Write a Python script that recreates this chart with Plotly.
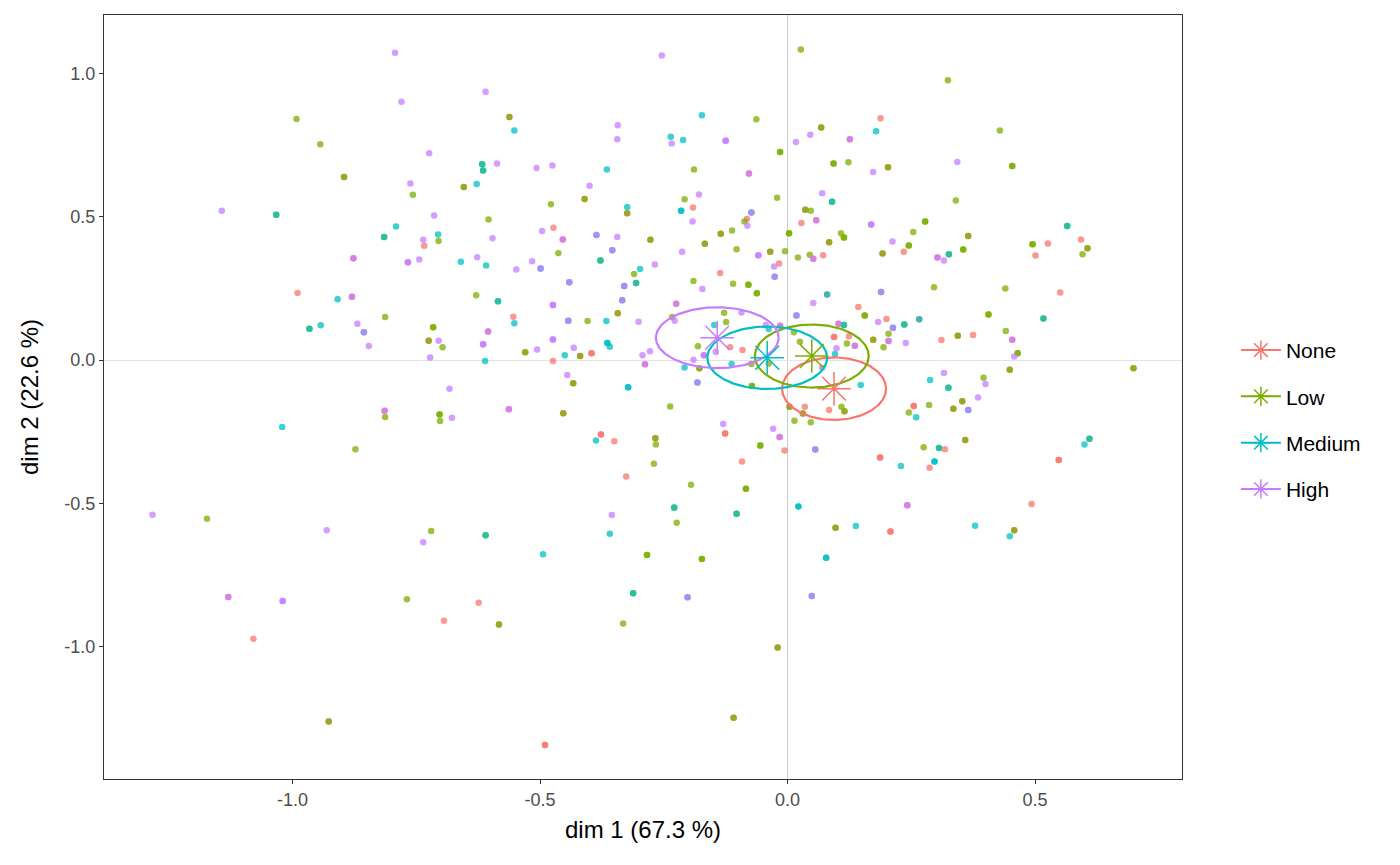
import numpy as np
import plotly.graph_objects as go

groups = ["None", "Low", "Medium", "High"]
colors = {"None": "#F8766D", "Low": "#7CAE00", "Medium": "#00BFC4", "High": "#C77CFF"}

# individual points belonging to a single group
none_only = [(-0.734,0.399),(-0.473,0.462),(-0.191,0.532),(-0.082,0.492),(-0.017,0.337),(0.028,0.478),(0.072,0.366),
    (0.188,0.844),(0.235,0.378),(0.526,0.407),(0.501,0.365),(0.593,0.421),(-0.990,0.234),
    (-0.136,0.304),(-0.554,0.151),(-0.396,0.024),(-0.396,0.024),(-0.474,-0.003),(-0.377,-0.260),(-0.377,-0.260),
    (-0.350,-0.283),(-0.326,-0.406),(-0.006,-0.316),(-0.092,-0.354),(-0.126,-0.256),(-0.126,-0.256),(0.035,-0.163),
    (-0.116,0.045),(-0.091,0.035),(0.551,0.236),(0.143,0.185),(0.200,0.143),(0.094,0.080),(0.094,0.080),(0.124,0.083),
    (0.311,0.070),(0.375,0.087),(0.084,-0.174),(0.255,-0.160),(0.255,-0.160),(0.318,-0.311),(0.287,-0.376),
    (0.187,-0.340),(0.187,-0.340),(0.493,-0.502),(0.548,-0.349),(0.548,-0.349),(0.208,-0.598),(0.208,-0.598),
    (-0.694,-0.910),(-1.079,-0.973),(-0.624,-0.847),(-0.490,-1.343),(-0.490,-1.343)]
low_only = [(-0.992,0.841),(-0.944,0.753),(-0.757,0.577),(-0.705,0.415),
    (-0.478,0.544),(-0.604,0.490),(-0.463,0.373),(-0.189,0.665),(-0.208,0.561),(-0.015,0.726),(-0.015,0.726),
    (-0.021,0.566),(-0.087,0.483),(-0.112,0.452),(-0.103,0.387),(-0.005,0.380),(0.021,0.358),(0.003,0.442),(0.003,0.442),
    (0.027,1.084),(0.047,0.521),(0.045,0.367),(-0.063,0.840),
    (0.324,0.976),(0.429,0.801),(0.093,0.686),(0.093,0.686),(0.123,0.690),(0.454,0.677),(0.454,0.677),(0.340,0.557),
    (0.278,0.483),(0.278,0.483),(0.108,0.442),(0.114,0.428),(0.114,0.428),(0.254,0.447),(0.245,0.400),(0.245,0.400),
    (0.355,0.386),(0.355,0.386),(0.495,0.404),(0.495,0.404),(0.596,0.369),
    (-0.813,0.150),(-0.716,0.114),(-0.716,0.114),(-0.697,0.045),(-0.813,-0.199),(-0.703,-0.190),(-0.703,-0.190),
    (-0.702,-0.213),(-0.873,-0.311),(-1.173,-0.554),
    (-0.310,0.300),(-0.190,0.276),(-0.110,0.266),(-0.079,0.263),(-0.079,0.263),(-0.062,0.233),(-0.062,0.233),
    (-0.629,0.226),(-0.404,0.136),(-0.233,0.150),(-0.237,-0.162),(-0.266,-0.295),(-0.270,-0.362),(-0.195,-0.435),
    (-0.084,-0.449),(-0.084,-0.449),(-0.224,-0.568),(-0.055,-0.298),(-0.055,-0.298),(0.014,-0.212),(0.047,-0.217),
    (-0.128,0.165),(-0.124,0.133),(-0.181,0.048),(-0.073,-0.014),(-0.072,-0.091),(-0.072,-0.091),(-0.038,-0.012),
    (0.013,0.097),(0.025,0.064),
    (0.296,0.254),(0.440,0.250),(0.156,0.155),(0.156,0.155),(0.406,0.159),(0.406,0.159),(0.120,0.058),(0.204,0.092),
    (0.194,0.045),(0.441,0.101),(0.465,0.024),(0.465,0.024),(0.109,-0.163),(0.396,-0.062),(0.286,-0.157),
    (0.245,-0.183),(0.275,-0.304),
    (-0.720,-0.597),(-0.769,-0.835),(-0.284,-0.680),(-0.284,-0.680),(-0.173,-0.694),(-0.173,-0.694),(-0.332,-0.919)]
medium_only = [(-0.791,0.466),(-0.706,0.438),(-0.660,0.343),
    (-0.552,0.801),(-0.628,0.614),(-0.365,0.665),(-0.324,0.534),(-0.609,0.330),(-0.236,0.779),(-0.211,0.768),
    (-0.173,0.854),(-0.215,0.521),(-0.215,0.521),(-0.298,0.318),(0.179,0.798),
    (-0.909,0.212),(-0.943,0.121),(-1.021,-0.234),
    (-0.552,0.128),(-0.366,0.136),(-0.450,0.017),(-0.611,-0.003),(-0.364,0.059),(-0.364,0.059),(-0.359,0.046),
    (-0.322,-0.095),(-0.322,-0.095),(-0.387,-0.281),(0.022,-0.511),(0.022,-0.511),(-0.148,0.122),(-0.208,-0.026),
    (-0.113,-0.014),(-0.038,0.108),
    (0.096,0.021),(0.148,-0.087),(0.288,-0.070),(0.260,-0.200),(0.297,-0.354),(0.297,-0.354),(0.229,-0.370),
    (0.600,-0.295),(0.138,-0.579),(0.379,-0.578),(0.449,-0.615),(0.078,-0.690),(0.078,-0.690),
    (-0.359,-0.606),(-0.494,-0.678)]
high_only = [(-0.793,1.072),(-0.780,0.901),(-0.724,0.722),(-0.762,0.616),(-1.143,0.521),(-0.714,0.504),(-0.736,0.420),
    (-0.767,0.341),(-0.767,0.341),(-0.744,0.351),
    (-0.610,0.936),(-0.254,1.063),(-0.587,0.686),(-0.507,0.670),(-0.475,0.679),(-0.343,0.819),(-0.344,0.770),
    (-0.400,0.608),(-0.596,0.425),(-0.496,0.450),(-0.344,0.429),(-0.627,0.359),(-0.516,0.345),(-0.234,0.756),
    (-0.125,0.765),(-0.125,0.765),(-0.179,0.578),(-0.192,0.483),(-0.081,0.469),(-0.059,0.366),(-0.059,0.366),
    (-0.027,0.326),(0.017,0.761),(0.046,0.786),(0.070,0.582),(-0.548,0.316),(-0.268,0.333),(-0.213,0.378),
    (0.173,0.656),(0.343,0.691),(0.169,0.473),(0.169,0.473),(0.212,0.414),(0.316,0.347),
    (-0.869,0.127),(-0.846,0.049),(-0.705,0.067),(-0.722,0.009),(-0.683,-0.100),(-0.678,-0.201),(-1.283,-0.540),
    (-0.172,0.248),(-0.474,0.192),(-0.474,0.192),(-0.615,0.055),(-0.615,0.055),(-0.506,0.037),(-0.474,0.072),
    (-0.474,0.072),(-0.301,0.134),(-0.228,0.137),(-0.432,0.043),(-0.293,0.017),(-0.278,0.031),(-0.445,-0.052),
    (-0.355,-0.541),(-0.029,-0.240),(-0.130,-0.223),(-0.093,0.166),(-0.169,0.017),(-0.169,0.017),(-0.145,0.029),
    (-0.190,0.001),(-0.044,0.122),(0.052,0.199),(0.070,-0.027),
    (0.183,0.133),(0.099,0.041),(0.239,0.059),(0.458,0.012),(0.316,-0.045),(0.400,-0.084),(0.385,-0.131),
    (-0.931,-0.594),(-0.736,-0.636),(-1.020,-0.841),(-1.020,-0.841)]

# positions shared by individuals from two groups (overlapping points)
none_low = [(-0.896,0.639),(-0.654,0.604),(-0.562,0.848),(-0.324,0.512),(-0.277,0.420),(-0.135,0.441),(-0.167,0.406),
    (-0.035,0.378),(0.068,0.811),(0.036,0.524),(-0.410,0.562),(0.203,0.673),(0.084,0.411),(0.365,0.433),
    (0.192,0.372),(0.606,0.390),(-0.725,0.067),(-0.530,0.027),(-0.433,-0.081),(-0.453,-0.186),(-0.267,-0.273),
    (0.004,-0.163),(-0.178,-0.029),(-0.343,0.163),(-0.419,0.014),(0.031,-0.187),(0.173,0.071),(0.344,0.085),
    (0.353,-0.144),(0.335,-0.170),(0.359,-0.279),(0.449,-0.034),(0.699,-0.029),(0.115,-0.179),(0.097,-0.585),
    (0.458,-0.594),(-0.927,-1.261),(-0.583,-0.923),(-0.020,-1.003),(-0.109,-1.248)]
none_medium = [(0.080,0.229),(0.266,0.142)]
none_high = [(-0.877,0.355),(-0.454,0.421),(-0.078,0.651),(0.058,0.488),(0.052,0.353),(0.126,0.770),(0.303,0.358),
    (-0.880,0.221),(-0.814,-0.177),(-0.605,0.100),(-0.225,0.196),(-0.288,-0.015),(-0.563,-0.172),(-0.016,-0.269),
    (-0.015,0.120),(0.103,0.127),(0.136,0.050),(0.204,0.066),(0.454,0.071),(0.242,-0.507),(-1.130,-0.827)]
low_medium = [(-1.033,0.507),(-0.815,0.429),(-0.617,0.683),(-0.615,0.661),(-0.378,0.347),(0.090,0.552),(0.326,0.369),
    (0.565,0.468),(-0.966,0.109),(-0.585,0.205),(-0.306,0.269),(-0.229,-0.515),(-0.103,-0.536),(0.236,0.124),
    (0.517,0.145),(0.114,0.122),(0.325,-0.097),(0.306,-0.307),(0.610,-0.275),(-0.610,-0.611),(-0.312,-0.814)]
medium_high = [(-0.386,0.436),(-0.354,0.383),(-0.073,0.515),(-0.499,0.319),(-0.856,0.097),(-0.026,0.291),
    (-0.441,0.271),(-0.330,0.258),(-0.334,0.209),(-0.443,0.137),(0.056,-0.312),(-0.182,-0.078),(0.018,0.155),
    (0.189,0.237),(0.213,0.113),(0.365,-0.174),(-0.202,-0.828),(0.049,-0.823)]

# group means (stars) and ellipse semi-axes
mean_x = [0.094, 0.049, -0.041, -0.142]
mean_y = [-0.100, 0.014, 0.008, 0.078]
ell_rx = [0.105, 0.115, 0.121, 0.124]
ell_ry = [0.109, 0.110, 0.109, 0.106]

x_tickvals = [-1.0, -0.5, 0.0, 0.5]
x_ticktext = ["-1.0", "-0.5", "0.0", "0.5"]
y_tickvals = [-1.0, -0.5, 0.0, 0.5, 1.0]
y_ticktext = ["-1.0", "-0.5", "0.0", "0.5", "1.0"]

group_pts = {
    "None": none_only + none_low + none_medium + none_high,
    "Low": low_only + none_low + low_medium,
    "Medium": medium_only + none_medium + low_medium + medium_high,
    "High": high_only + none_high + medium_high,
}

fig = go.Figure()
for g in groups:
    pts = group_pts[g]
    fig.add_trace(go.Scatter(
        x=[p[0] for p in pts], y=[p[1] for p in pts], mode="markers",
        marker=dict(size=6.5, color=colors[g], opacity=0.75, line=dict(width=0)),
        showlegend=False, hoverinfo="skip"))

t = np.linspace(0, 2 * np.pi, 200)
for i, g in enumerate(groups):
    fig.add_trace(go.Scatter(
        x=mean_x[i] + ell_rx[i] * np.cos(t), y=mean_y[i] + ell_ry[i] * np.sin(t),
        mode="lines", line=dict(color=colors[g], width=2.2), showlegend=False, hoverinfo="skip"))

for i, g in enumerate(groups):
    fig.add_trace(go.Scatter(
        x=[mean_x[i]], y=[mean_y[i]], mode="markers", showlegend=False, hoverinfo="skip",
        marker=dict(symbol="asterisk-open", size=28, color=colors[g], line=dict(color=colors[g], width=1.5))))

# legend-only entries (line + asterisk glyph)
for i, g in enumerate(groups):
    fig.add_trace(go.Scatter(
        x=[None], y=[None], mode="lines+markers", name=g, legendgroup=g,
        line=dict(color=colors[g], width=2),
        marker=dict(symbol="asterisk-open", size=22, color=colors[g], line=dict(color=colors[g], width=1.5))))

font = "Liberation Sans, Arial, sans-serif"
fig.update_layout(
    width=1392, height=857,
    margin=dict(l=96, r=218, t=7, b=86),
    paper_bgcolor="white", plot_bgcolor="white",
    font=dict(family=font, color="black"),
    showlegend=True,
    legend=dict(x=1.05, y=0.47, xanchor="left", yanchor="middle", font=dict(size=21, color="black"),
                bgcolor="rgba(0,0,0,0)", tracegroupgap=16, itemwidth=40),
    xaxis=dict(range=[-1.381, 0.797], tickvals=x_tickvals, ticktext=x_ticktext, showgrid=False,
               zeroline=True, zerolinecolor="#cccccc", zerolinewidth=1,
               showline=True, linecolor="#333333", linewidth=1, mirror=True,
               ticks="outside", ticklen=4, tickcolor="#333333",
               tickfont=dict(size=18, color="#4d4d4d"),
               title=dict(text="dim 1 (67.3 %)", font=dict(size=24, color="black"), standoff=12)),
    yaxis=dict(range=[-1.462, 1.204], tickvals=y_tickvals, ticktext=y_ticktext, showgrid=False,
               zeroline=True, zerolinecolor="#e3e3e3", zerolinewidth=1.2,
               showline=True, linecolor="#333333", linewidth=1, mirror=True,
               ticks="outside", ticklen=4, tickcolor="#333333",
               tickfont=dict(size=18, color="#4d4d4d"),
               title=dict(text="dim 2 (22.6 %)", font=dict(size=24, color="black"), standoff=18)),
)
fig.write_html("out.html")
